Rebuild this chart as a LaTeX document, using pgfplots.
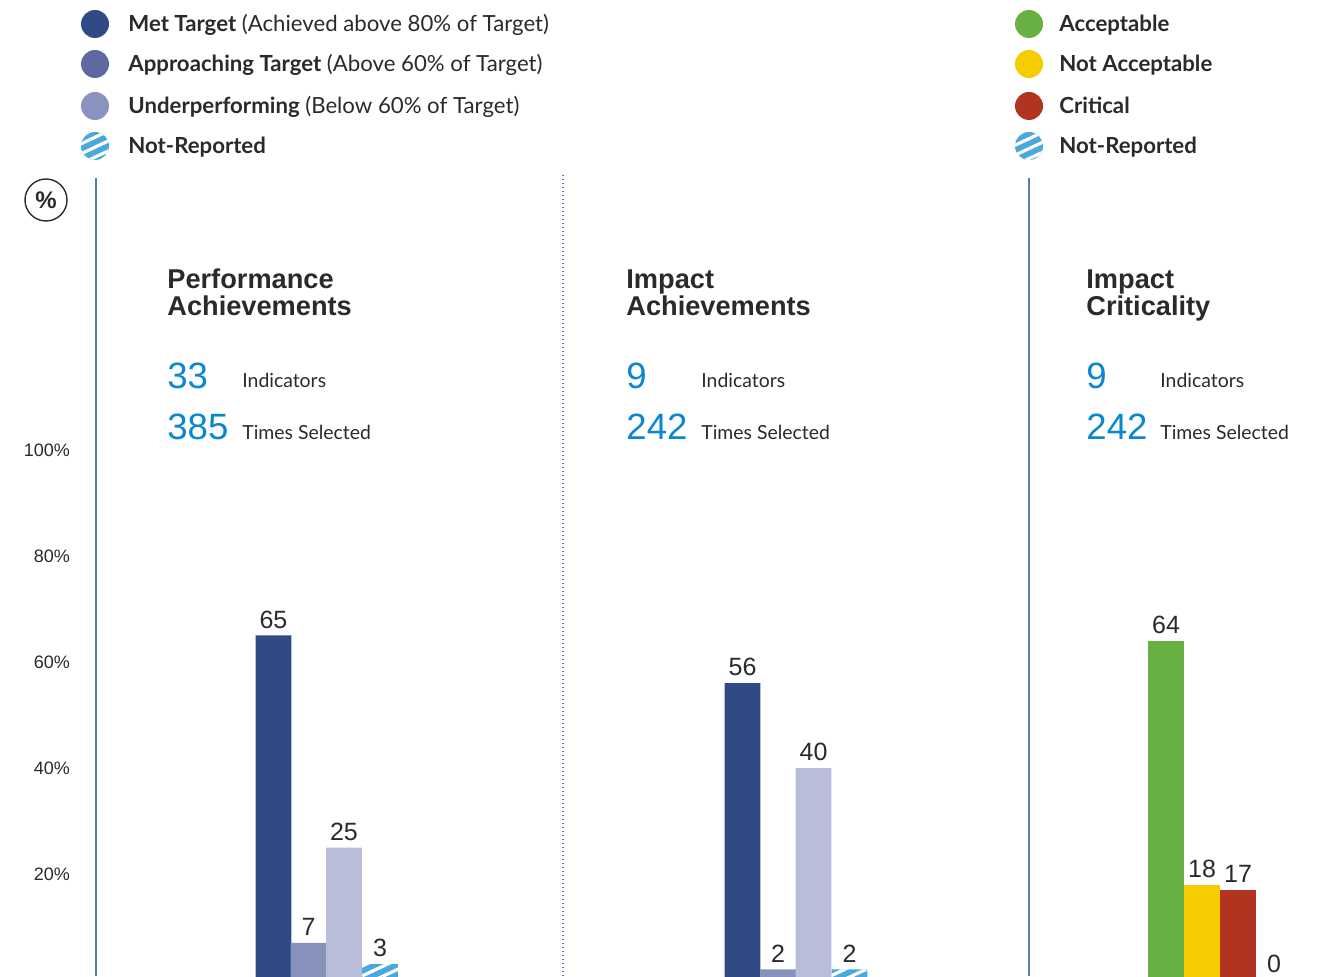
\documentclass[border=0pt]{standalone}
\usepackage{pgfplots}
\pgfplotsset{compat=1.18}
\usepackage{fontspec}
\usetikzlibrary{patterns.meta}
\setmainfont{Liberation Sans}
\newfontfamily\lato{Lato}
\definecolor{navy}{HTML}{2F4A84}
\definecolor{apbar}{HTML}{8890BC}
\definecolor{unbar}{HTML}{B8BDD9}
\definecolor{aplg}{HTML}{5D6AA1}
\definecolor{unlg}{HTML}{8A92C0}
\definecolor{stripe}{HTML}{4BA8DC}
\definecolor{okgreen}{HTML}{67B041}
\definecolor{nayellow}{HTML}{F6CB00}
\definecolor{critred}{HTML}{B0341F}
\definecolor{numblue}{HTML}{0A87D0}
\definecolor{txt}{HTML}{2A2A2A}
\definecolor{vline}{HTML}{5A7BAE}
\tikzset{striped/.style={fill=stripe, postaction={pattern={Lines[angle=25,distance=4.5pt,line width=1.6pt]}, pattern color=white}}}
\begin{document}
\begin{tikzpicture}
\begin{axis}[
  at={(0pt,-2pt)}, anchor=south west,
  width=659.5pt, height=490pt, scale only axis,
  xmin=0, xmax=1319, ymin=0, ymax=184.906,
  axis line style={draw=none}, xtick=\empty,
  ytick={20,40,60,80,100}, major tick length=0pt,
  yticklabel={\pgfmathprintnumber{\tick}\%},
  /pgf/number format/assume math mode=true,
  yticklabel style={anchor=east, xshift=38.5pt, font=\fontsize{9}{11}\selectfont, text=txt},
  every node near coord/.append style={font=\fontsize{12.5}{14}\selectfont, text=txt},
  clip=false,
]
\addplot[ybar, bar shift=0pt, bar width=35.7, fill=navy, draw=none, nodes near coords] coordinates {(273.5,65) (742.5,56)};
\addplot[ybar, bar shift=0pt, bar width=35.7, fill=apbar, draw=none, nodes near coords] coordinates {(308.5,7) (778,2)};
\addplot[ybar, bar shift=0pt, bar width=35.7, fill=unbar, draw=none, nodes near coords] coordinates {(344,25) (813.5,40)};
\addplot[ybar, bar shift=0pt, bar width=35.7, striped, draw=none, nodes near coords] coordinates {(380,3) (849.5,2) (1274,0)};
\addplot[ybar, bar shift=0pt, bar width=35.7, fill=okgreen, draw=none, nodes near coords] coordinates {(1166,64)};
\addplot[ybar, bar shift=0pt, bar width=35.7, fill=nayellow, draw=none, nodes near coords] coordinates {(1202,18)};
\addplot[ybar, bar shift=0pt, bar width=35.7, fill=critred, draw=none, nodes near coords] coordinates {(1238,17)};
\end{axis}
\begin{scope}[shift={(0pt,488pt)}, x=0.5pt, y=-0.5pt]
  % separators
  \draw[vline, line width=0.9pt] (96,178) -- (96,976);
  \draw[vline, line width=0.9pt] (1029,178) -- (1029,976);
  \draw[vline, line width=0.7pt, dash pattern=on 0.7pt off 1.3pt] (563,175) -- (563,976);
  % percent circle
  \draw[txt, line width=0.7pt] (46,200) circle (10.5pt);
  \node[txt, font=\fontsize{12}{12}\selectfont\bfseries] at (46,200) {\%};
  % legends
  \fill[navy] (95,24) circle (7pt);
  \fill[aplg] (95,64) circle (7pt);
  \fill[unlg] (95,106) circle (7pt);
  \path[striped] (95,146) circle (7pt);
  \fill[okgreen] (1029,24) circle (7pt);
  \fill[nayellow] (1029,64) circle (7pt);
  \fill[critred] (1029,106) circle (7pt);
  \path[striped] (1029,146) circle (7pt);
  \begin{scope}[every node/.style={anchor=base west, inner sep=0pt, text=txt, font=\lato\fontsize{11.1}{12}\selectfont}]
    \node at (128,32) {\textbf{Met Target} (Achieved above 80\% of Target)};
    \node at (128,72) {\textbf{Approaching Target} (Above 60\% of Target)};
    \node at (128,114) {\textbf{Underperforming} (Below 60\% of Target)};
    \node at (128,154) {\textbf{Not-Reported}};
    \node at (1059,32) {\textbf{Acceptable}};
    \node at (1059,72) {\textbf{Not Acceptable}};
    \node at (1059,114) {\textbf{Critical}};
    \node at (1059,154) {\textbf{Not-Reported}};
  \end{scope}
  % panel headers
  \begin{scope}[every node/.style={inner sep=0pt}]
    \node[anchor=base west, align=left, text=txt, font=\fontsize{13.6}{13.5}\selectfont\bfseries] at (167,316) {Performance\\Achievements};
    \node[anchor=base west, align=left, text=txt, font=\fontsize{13.6}{13.5}\selectfont\bfseries] at (626,316) {Impact\\Achievements};
    \node[anchor=base west, align=left, text=txt, font=\fontsize{13.6}{13.5}\selectfont\bfseries] at (1086,316) {Impact\\Criticality};
    \foreach \xa/\xb/\na/\nb in {167/242/33/385, 626/701/9/242, 1086/1160/9/242} {
      \node[anchor=base west, text=numblue, font=\fontsize{18.3}{20}\selectfont] at (\xa,389) {\na};
      \node[anchor=base west, text=numblue, font=\fontsize{18.3}{20}\selectfont] at (\xa,440) {\nb};
      \node[anchor=base west, text=txt, font=\lato\fontsize{9.7}{10}\selectfont] at (\xb,388) {Indicators};
      \node[anchor=base west, text=txt, font=\lato\fontsize{9.7}{10}\selectfont] at (\xb,440) {Times Selected};
    }
  \end{scope}
\end{scope}
\pgfresetboundingbox
\path (0,0) rectangle (659.5pt,488pt);
\end{tikzpicture}
\end{document}
